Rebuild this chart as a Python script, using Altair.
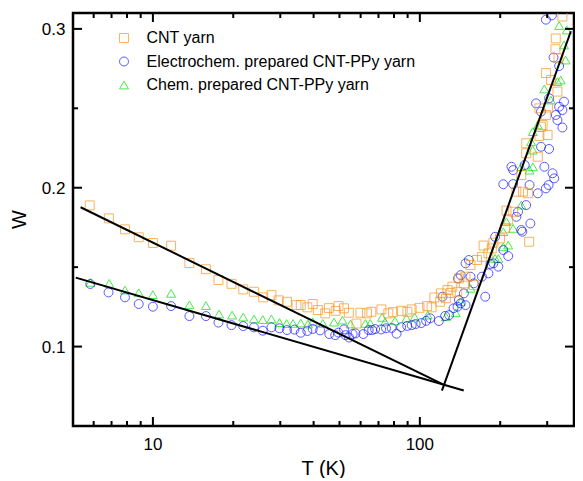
import math
import altair as alt
import pandas as pd

# ---------------- data ----------------
series_names = ["CNT yarn", "Electrochem. prepared CNT-PPy yarn", "Chem. prepared CNT-PPy yarn"]
series_colors = ["#F7941D", "#1414FF", "#00E000"]
series_shapes = ["square", "circle", "triangle-up"]

cnt_T = [5.80, 6.84, 7.86, 8.85, 10.0, 11.7, 13.7, 15.8, 17.6, 19.7, 21.8, 23.9, 25.9, 27.8, 29.6,
         31.8, 34.5, 35.8, 37.9, 39.7, 41.5, 44.2, 45.6, 48.4, 49.6, 52.0, 54.2, 57.9, 59.9, 63.4,
         65.8, 71.8, 76.2, 79.3, 85.1, 89.8, 93.2, 99.7, 106.5, 110.7, 113.3, 119.2, 119.9, 125.2,
         126.9, 130.6, 132.4, 138.1, 140.1, 146.2, 148.3, 154.8, 159.2, 163.7, 170.8, 173.3, 180.7,
         188.6, 186.0, 199.7, 208.4, 211.2, 214.3, 223.6, 229.9, 239.9, 243.4, 250.3, 250.3, 254.0,
         256.8, 276.6, 280.5, 280.5, 284.4, 288.5, 296.7, 296.7, 301.0, 302.3, 310.1, 322.1, 323.0,
         327.7, 330.5, 342.0]
cnt_W = [0.1889, 0.1807, 0.1738, 0.1688, 0.1652, 0.1635, 0.1526, 0.1487, 0.1419, 0.1395, 0.1360,
         0.1345, 0.1310, 0.1324, 0.1291, 0.1282, 0.1261, 0.1261, 0.1247, 0.1268, 0.1230, 0.1209,
         0.1242, 0.1225, 0.1255, 0.1241, 0.1213, 0.1145, 0.1213, 0.1209, 0.1219, 0.1234, 0.1209,
         0.1217, 0.1225, 0.1219, 0.1234, 0.1244, 0.1255, 0.1247, 0.1309, 0.1282, 0.1335, 0.1304,
         0.1356, 0.1337, 0.1377, 0.1345, 0.1429, 0.1398, 0.1440, 0.1513, 0.1387, 0.1545, 0.1565,
         0.1636, 0.1587, 0.1654, 0.1618, 0.1681, 0.1744, 0.1856, 0.1800, 0.1849, 0.1975, 0.2080,
         0.1975, 0.2280, 0.2217, 0.1965, 0.1660, 0.2195, 0.2500, 0.2326, 0.2384, 0.2395, 0.2722,
         0.2458, 0.2332, 0.2505, 0.2678, 0.2872, 0.2940, 0.2605, 0.2815, 0.3078]

ec_T = [5.83, 6.82, 7.86, 8.85, 10.0, 11.7, 13.7, 15.8, 17.6, 19.7, 21.8, 23.9, 25.8, 27.8, 29.8,
        31.8, 33.9, 35.8, 37.9, 39.7, 42.3, 45.8, 48.2, 49.5, 52.0, 52.7, 54.3, 56.0, 57.4, 61.4,
        64.3, 66.3, 68.0, 71.6, 74.7, 78.4, 81.8, 85.1, 89.7, 93.2, 96.4, 101.2, 105.6, 109.3,
        117.8, 121.6, 124.4, 128.7, 133.7, 138.4, 139.0, 140.1, 142.2, 142.2, 146.2, 148.3, 148.3,
        152.6, 154.8, 159.2, 170.8, 175.8, 180.7, 183.9, 188.6, 191.4, 196.8, 205.4, 205.4, 214.3,
        220.4, 223.6, 223.6, 229.9, 233.3, 239.9, 242.0, 247.0, 250.3, 257.6, 259.4, 272.5, 276.6,
        284.4, 284.4, 292.7, 296.7, 296.7, 303.6, 304.8, 305.0, 314.1, 316.8, 318.7, 323.0, 327.7,
        332.5, 332.5, 342.0, 342.0, 346.8, 312.3]
ec_W = [0.1394, 0.1341, 0.1310, 0.1268, 0.1251, 0.1255, 0.1192, 0.1192, 0.1151, 0.1135, 0.1129,
        0.1121, 0.1100, 0.1121, 0.1115, 0.1104, 0.1107, 0.1087, 0.1098, 0.1111, 0.1102, 0.1079,
        0.1072, 0.1088, 0.1108, 0.1072, 0.1057, 0.1079, 0.1083, 0.1079, 0.1104, 0.1104, 0.1110,
        0.1108, 0.1115, 0.1117, 0.1081, 0.1122, 0.1130, 0.1135, 0.1142, 0.1148, 0.1162, 0.1178,
        0.1161, 0.1314, 0.1193, 0.1198, 0.1241, 0.1251, 0.1429, 0.1293, 0.1272, 0.1450, 0.1335,
        0.1261, 0.1524, 0.1545, 0.1440, 0.1398, 0.1440, 0.1314, 0.1461, 0.1520, 0.1524, 0.1691,
        0.1503, 0.1608, 0.2022, 0.1570, 0.2132, 0.2023, 0.2111, 0.1817, 0.1849, 0.1734, 0.1723,
        0.2143, 0.1891, 0.2017, 0.1775, 0.2531, 0.1965, 0.2479, 0.2258, 0.2132, 0.1996, 0.3058,
        0.2017, 0.2244, 0.2563, 0.2091, 0.2820, 0.2059, 0.2458, 0.2426, 0.2766, 0.2510, 0.2379,
        0.2489, 0.2542, 0.3085]

ch_T = [5.83, 6.86, 7.86, 8.85, 10.0, 11.7, 13.7, 15.8, 17.7, 19.8, 21.8, 23.9, 25.8, 27.8, 29.8,
        31.7, 33.5, 35.8, 38.1, 39.7, 43.3, 47.7, 51.3, 55.0, 62.5, 65.2, 72.2, 74.1, 80.7, 89.1,
        95.6, 107.0, 125.2, 136.3, 142.2, 154.8, 191.4, 196.8, 205.4, 214.3, 205.4, 211.2, 223.6,
        239.9, 239.9, 257.6, 261.2, 265.0, 265.0, 265.0, 276.6, 292.7, 309.6, 327.7, 337.0, 346.8,
        351.6, 332.5, 355.3]
ch_W = [0.1404, 0.1398, 0.1356, 0.1339, 0.1327, 0.1335, 0.1263, 0.1258, 0.1205, 0.1198, 0.1186,
        0.1174, 0.1170, 0.1174, 0.1151, 0.1145, 0.1146, 0.1148, 0.1142, 0.1156, 0.1146, 0.1154,
        0.1167, 0.1142, 0.1146, 0.1146, 0.1184, 0.1156, 0.1162, 0.1178, 0.1186, 0.1198, 0.1188,
        0.1213, 0.1282, 0.1367, 0.1555, 0.1555, 0.1628, 0.1639, 0.1723, 0.1786, 0.1744, 0.1891,
        0.2132, 0.2111, 0.2290, 0.2132, 0.2353, 0.2237, 0.2395, 0.2622, 0.2552, 0.2668, 0.2678,
        0.2899, 0.2804, 0.3021, 0.2993]

fit1_T = [5.36, 121.6]
fit1_W = [0.1877, 0.0763]
fit2_T = [5.14, 146.0]
fit2_W = [0.1434, 0.0723]
fit3_T = [121.0, 368.0]
fit3_W = [0.0723, 0.2985]

x_domain = [5.02, 378.0]
y_domain = [0.05, 0.31]
x_major = [10, 100]
x_major_labels = ["10", "100"]
x_minor = [6, 7, 8, 9, 20, 30, 40, 50, 60, 70, 80, 90, 200, 300]
y_major = [0.1, 0.2, 0.3]
y_major_labels = ["0.1", "0.2", "0.3"]
y_minor = [0.15, 0.25]
x_title = "T (K)"
y_title = "W"

# ---------------- build chart ----------------
df = pd.concat([
    pd.DataFrame({"T": ch_T, "W": ch_W, "series": series_names[2]}),
    pd.DataFrame({"T": ec_T, "W": ec_W, "series": series_names[1]}),
    pd.DataFrame({"T": cnt_T, "W": cnt_W, "series": series_names[0]}),
], ignore_index=True)

FONT = "Liberation Sans"
W_PLOT, H_PLOT = 501, 413
MAJ, MIN = 9, 5

xs = alt.Scale(type="log", domain=x_domain, nice=False)
ys = alt.Scale(domain=y_domain, nice=False, zero=False)

# tick segments (tick positions from the tick-value lists; length converted from pixels)
w_per_px = (y_domain[1] - y_domain[0]) / H_PLOT
logspan_per_px = math.log10(x_domain[1] / x_domain[0]) / W_PLOT
rows = []
tid = 0
for vals, ln in ((x_major, MAJ), (x_minor, MIN)):
    for v in vals:
        for w0, w1 in ((y_domain[0], y_domain[0] + ln * w_per_px),
                       (y_domain[1], y_domain[1] - ln * w_per_px)):
            rows += [{"id": tid, "T": v, "W": w0}, {"id": tid, "T": v, "W": w1}]
            tid += 1
for vals, ln in ((y_major, MAJ), (y_minor, MIN)):
    for v in vals:
        f = 10 ** (ln * logspan_per_px)
        for t0, t1 in ((x_domain[0], x_domain[0] * f), (x_domain[1], x_domain[1] / f)):
            rows += [{"id": tid, "T": t0, "W": v}, {"id": tid, "T": t1, "W": v}]
            tid += 1
ticks_df = pd.DataFrame(rows)

legend = alt.Legend(orient="none", legendX=43, legendY=17, title=None, labelFontSize=16,
                    labelFont=FONT, labelColor="black", labelOffset=14.5, rowPadding=7.5,
                    padding=0, symbolSize=80, symbolStrokeWidth=1, labelLimit=500)

scatter = alt.Chart(df).mark_point(filled=False, size=80, strokeWidth=1, clip=True).encode(
    x=alt.X("T:Q", scale=xs, axis=None),
    y=alt.Y("W:Q", scale=ys, axis=None),
    color=alt.Color("series:N", scale=alt.Scale(domain=series_names, range=series_colors),
                    legend=legend, sort=series_names),
    shape=alt.Shape("series:N", scale=alt.Scale(domain=series_names, range=series_shapes),
                    legend=legend, sort=series_names),
)

ticks = alt.Chart(ticks_df).mark_line(color="black", strokeWidth=2, strokeCap="butt").encode(
    x=alt.X("T:Q", scale=xs, axis=None),
    y=alt.Y("W:Q", scale=ys, axis=None),
    detail="id:N",
)


def fit_layer(tv, wv):
    return alt.Chart(pd.DataFrame({"T": tv, "W": wv})).mark_line(
        color="black", strokeWidth=2, clip=True
    ).encode(
        x=alt.X("T:Q", scale=xs, axis=None),
        y=alt.Y("W:Q", scale=ys, axis=None),
    )


x_labels = alt.Chart(pd.DataFrame({"T": x_major, "lab": x_major_labels})).mark_text(
    font=FONT, fontSize=17, color="black", align="center", baseline="alphabetic"
).encode(x=alt.X("T:Q", scale=xs, axis=None), y=alt.value(H_PLOT + 23.5), text="lab:N")

y_labels = alt.Chart(pd.DataFrame({"W": y_major, "lab": y_major_labels})).mark_text(
    font=FONT, fontSize=17, color="black", align="right", baseline="middle", dy=1
).encode(y=alt.Y("W:Q", scale=ys, axis=None), x=alt.value(-7.5), text="lab:N")

x_title_layer = alt.Chart(pd.DataFrame({"t": [x_title]})).mark_text(
    font=FONT, fontSize=20, color="black", align="center", baseline="alphabetic"
).encode(x=alt.value(W_PLOT / 2), y=alt.value(H_PLOT + 48.5), text="t:N")

y_title_layer = alt.Chart(pd.DataFrame({"t": [y_title]})).mark_text(
    font=FONT, fontSize=20, color="black", align="center", baseline="alphabetic", angle=270
).encode(x=alt.value(-47), y=alt.value(H_PLOT / 2), text="t:N")

chart = alt.layer(
    scatter,
    ticks,
    fit_layer(fit1_T, fit1_W),
    fit_layer(fit2_T, fit2_W),
    fit_layer(fit3_T, fit3_W),
    x_labels,
    y_labels,
    x_title_layer,
    y_title_layer,
).properties(
    width=W_PLOT, height=H_PLOT,
    autosize=alt.AutoSizeParams(type="none"),
    padding={"left": 65, "top": 5, "right": 1, "bottom": 52},
    background="white",
).configure_view(stroke="black", strokeWidth=2.5)

chart.save("out.html", embed_options={"renderer": "svg", "actions": False})
